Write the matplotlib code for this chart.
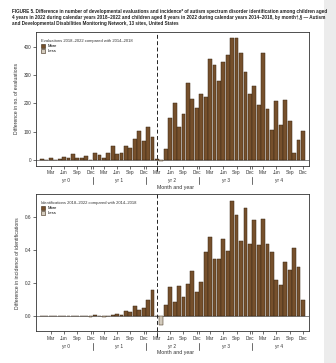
import numpy as np
import matplotlib
matplotlib.use("Agg")
import matplotlib.pyplot as plt
from matplotlib.patches import Patch, Rectangle

plt.rcParams["font.family"] = ["Liberation Sans", "DejaVu Sans"]

TITLE = ("FIGURE 5. Difference in number of developmental evaluations and incidence* of autism spectrum disorder "
         "identification among children aged\n4 years in 2022 during calendar years 2018\u20132022 and children aged "
         "8 years in 2022 during calendar years 2014\u20132018, by month\u2020,\u00a7 \u2014 Autism\n"
         "and Developmental Disabilities Monitoring Network, 13 sites, United States")

MONTH_TICKS = ["Mar", "Jun", "Sep", "Dec"]
YEAR_LABELS = ["yr 0", "yr 1", "yr 2", "yr 3", "yr 4"]

# monthly differences, Jan yr 0 .. Dec yr 4
evaluations = [
    3, 1, 7, 1, 5, 10, 8, 20, 6, 7, 13, 1,
    25, 17, 8, 25, 50, 20, 24, 50, 42, 75, 103, 67,
    118, 82, 2, -3, 40, 150, 200, 117, 164, 273, 216, 185,
    232, 222, 358, 337, 278, 346, 371, 430, 430, 380, 313, 235,
    263, 194, 378, 182, 106, 208, 123, 211, 138, 25, 70, 104,
]
identifications = [
    0.001, 0.001, 0.001, 0.001, 0.001, 0.002, 0.002, 0.004, 0.003, 0.002, 0.004, -0.003,
    0.010, 0.004, -0.004, 0.004, 0.008, 0.016, 0.006, 0.034, 0.024, 0.062, 0.038, 0.050,
    0.097, 0.158, 0.0, -0.055, 0.071, 0.176, 0.087, 0.186, 0.115, 0.198, 0.273, 0.149,
    0.208, 0.392, 0.479, 0.350, 0.344, 0.467, 0.394, 0.701, 0.616, 0.456, 0.659, 0.440,
    0.582, 0.430, 0.592, 0.438, 0.392, 0.220, 0.192, 0.329, 0.279, 0.412, 0.299, 0.101,
]

MORE = "#76502c"
LESS = "#d3cbbd"
EDGE = "#3a2814"
FS = 3.4
TXT = "#333333"


def draw_panel(ax, values, legend_title, ylabel, yticks, ylim, yfmt):
    x = np.arange(len(values))
    vals = np.asarray(values, float)
    colors = [MORE if v >= 0 else LESS for v in vals]
    ax.bar(x, vals, width=0.86, color=colors, edgecolor=EDGE, linewidth=0.35, zorder=2)
    ax.axhline(0, color="#555555", lw=0.5, zorder=1)
    ax.axvline(26, ymin=-0.04, ymax=1, color="#222222", lw=0.7, ls=(0, (4, 2.5)),
               clip_on=False, zorder=3)

    ax.set_xlim(-1.35, 60.4)
    ax.set_ylim(*ylim)
    ticks = [m + 12 * yr for yr in range(5) for m in (2, 5, 8, 11)]
    ax.set_xticks(ticks)
    ax.set_xticklabels(MONTH_TICKS * 5)
    ax.set_xticks([11.5, 23.5, 35.5, 47.5], minor=True)
    ax.tick_params(axis="x", which="both", length=2, width=0.4, pad=1.2,
                   labelsize=FS, labelcolor=TXT)
    ax.set_yticks(yticks)
    ax.set_yticklabels([yfmt(v) for v in yticks])
    ax.tick_params(axis="y", length=2, width=0.4, pad=1.2, labelsize=FS, labelcolor=TXT)

    # year labels and separators under the month ticks
    trans = ax.get_xaxis_transform()
    for k, lab in enumerate(YEAR_LABELS):
        ax.text(5.5 + 12 * k, -0.112, lab, transform=trans, ha="center", va="center",
                fontsize=FS, color=TXT)
    for b in [11.5, 23.5, 35.5, 47.5]:
        ax.plot([b, b], [-0.085, -0.135], transform=trans, color="#333333", lw=0.5,
                clip_on=False)

    ax.set_xlabel("Month and year", fontsize=FS + 0.4, color=TXT)
    ax.xaxis.set_label_coords(0.51, -0.14)
    ax.set_ylabel(ylabel, fontsize=FS + 0.3, labelpad=3.5, color=TXT)

    for s in ax.spines.values():
        s.set_linewidth(0.6)
        s.set_color("#333333")

    handles = [Patch(facecolor=MORE, edgecolor=EDGE, linewidth=0.4, label="More"),
               Patch(facecolor=LESS, edgecolor=EDGE, linewidth=0.4, label="Less")]
    leg = ax.legend(handles=handles, title=legend_title, loc="upper left",
                    bbox_to_anchor=(0.012, 0.96), frameon=False, fontsize=3.0,
                    title_fontsize=3.0, handlelength=1.1, handleheight=1.1,
                    handletextpad=0.4, labelspacing=0.15, borderaxespad=0.0)
    leg._legend_box.align = "left"
    leg.get_title().set_color(TXT)


fig = plt.figure(figsize=(3.36, 3.63), dpi=100)
fig.patch.set_facecolor("white")
fig.patches.append(Rectangle((0.964, 0), 0.036, 1, transform=fig.transFigure,
                             facecolor="#ececec", edgecolor="none", zorder=0))

fig.text(0.036, 0.974, TITLE, ha="left", va="top", fontsize=3.3, fontweight="bold",
         linespacing=1.25, color="#222222")

ax1 = fig.add_axes([0.107, 0.543, 0.813, 0.369])
draw_panel(ax1, evaluations, "Evaluations 2018\u20132022 compared with 2014\u20132018",
           "Difference in no. of evaluations", [0, 100, 200, 300, 400], (-21, 453),
           lambda v: f"{v:d}")

ax2 = fig.add_axes([0.107, 0.088, 0.813, 0.377])
draw_panel(ax2, identifications, "Identifications 2018\u20132022 compared with 2014\u20132018",
           "Difference in incidence of identifications", [0.0, 0.2, 0.4, 0.6], (-0.09, 0.74),
           lambda v: f"{v:.1f}")

fig.savefig("out.png", dpi=100)
